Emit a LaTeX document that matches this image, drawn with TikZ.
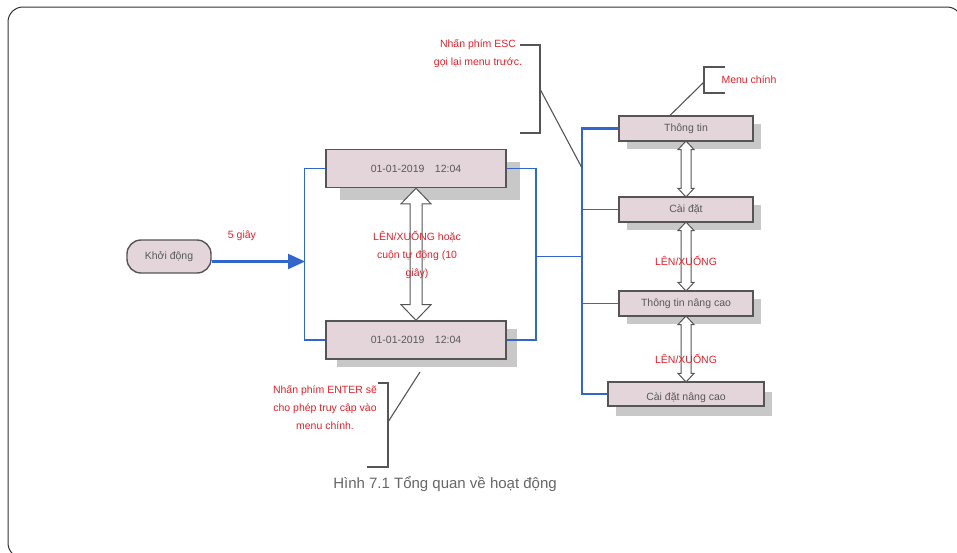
\documentclass[tikz,border=0pt]{standalone}
\usepackage{fontspec}
\setmainfont{Liberation Sans}
\usetikzlibrary{arrows.meta,shapes.arrows,shadows,calc}

\definecolor{boxfill}{HTML}{E3D5DA}
\definecolor{boxline}{HTML}{555555}
\definecolor{shadowgray}{HTML}{C8C8C8}
\definecolor{txtgray}{HTML}{595959}
\definecolor{notered}{HTML}{E0202A}
\definecolor{linkblue}{HTML}{3366CC}

\tikzset{
  boxshadow/.style 2 args={general shadow={fill=shadowgray,
    shadow xshift=#1, shadow yshift=#2}},
  menubox/.style={draw=boxline, fill=boxfill, line width=1.2pt, text=txtgray,
    minimum width=134pt, minimum height=25pt, inner sep=0pt},
  datebox/.style={menubox, minimum width=180pt, minimum height=38pt},
  note/.style={text=notered, align=center, font=\fontsize{10.5}{18}\selectfont},
  bline/.style={draw=linkblue, line width=1.8pt},
  callout/.style={draw=boxline, line width=1.1pt},
  updown/.style={double arrow, draw=boxline, fill=white, line width=1pt,
    rotate=90, inner xsep=0pt}
}

\begin{document}
\begin{tikzpicture}[x=1pt, y=-1pt, font=\fontsize{10.5}{12}\selectfont]
  \useasboundingbox (0,0) rectangle (957,552);
  \draw[rounded corners=15pt, line width=1pt, draw=black!80] (8,7) rectangle (962,558);

  % nodes
  \node[draw=boxline, fill=boxfill, line width=1.4pt, rounded corners=14pt,
    minimum width=84pt, minimum height=33pt, text=txtgray] (start) at (169,256.5) {Khởi động};
  \node[datebox, boxshadow={14pt}{-12pt}] (d1) at (416,168.5) {01-01-2019\quad 12:04};
  \node[datebox, boxshadow={11pt}{-8pt}] (d2) at (416,340) {01-01-2019\quad 12:04};

  \node[menubox, boxshadow={8pt}{-8pt}] (m1) at (686,128.5) {Thông tin};
  \node[menubox, boxshadow={8pt}{-8pt}] (m2) at (686,209.5) {Cài đặt};
  \node[menubox, boxshadow={8pt}{-8pt}] (m3) at (686,303.5) {Thông tin nâng cao};
  \node[menubox, boxshadow={8pt}{-10pt}, minimum width=156pt, minimum height=24pt]
    (m4) at (686,394) {\raisebox{-4pt}[\height][\depth]{Cài đặt nâng cao}};

  % blue links
  \coordinate (lb) at (305,261.5);
  \coordinate (rj) at (535,256.5);
  \coordinate (spt) at (582,128.5);
  \draw[bline, line width=2.2pt, -{Triangle[length=17pt,width=15pt]}]
    ([yshift=-5pt]start.east) -- (lb);
  \draw[bline] (d1.west) -- ++(-21,0) |- (d2.west);
  \draw[bline] (d1.east) -- ++(29,0) |- (d2.east);
  \draw[bline] (rj) -- (rj -| spt);
  \draw[bline, line width=2.2pt] (m1.west) -- (spt) |- (m4.west);
  \draw[bline] (spt |- m2.west) -- (m2.west);
  \draw[bline] (spt |- m3.west) -- (m3.west);

  % up/down arrows
  \node[updown, minimum height=132pt, inner ysep=5.5pt,
    double arrow head extend=9pt, double arrow tip angle=88] (ud0)
    at ($(d1.south)!.5!(d2.north)$) {};
  \node[updown, minimum height=56pt, inner ysep=4.5pt,
    double arrow head extend=3pt, double arrow tip angle=86] (ud1)
    at ($(m1.south)!.5!(m2.north)$) {};
  \node[updown, minimum height=69pt, inner ysep=4.5pt,
    double arrow head extend=3pt, double arrow tip angle=86] (ud2)
    at ($(m2.south)!.5!(m3.north)$) {};
  \node[updown, minimum height=66pt, inner ysep=4.5pt,
    double arrow head extend=3pt, double arrow tip angle=86] (ud3)
    at ($(m3.south)!.5!(m4.north)$) {};

  % notes
  \node[note] (wait) at (242,236) {5 giây};
  \node[note] (scroll) at (417,254.5) {LÊN/XUỐNG hoặc\\cuộn tự động (10\\giây)};
  \node[note] (ud2txt) at (686,261) {LÊN/XUỐNG};
  \node[note] (ud3txt) at (686,359) {LÊN/XUỐNG};

  % callouts
  \node[note] (esc) at (478,53.5) {Nhấn phím ESC\\gọi lại menu trước.};
  \coordinate (escT) at (540,45);
  \coordinate (escB) at (540,133);
  \coordinate (escM) at (540,89);
  \coordinate (escP) at (582,168);
  \draw[callout] ([xshift=-20pt]escT) -- (escT) -- (escB) -- ([xshift=-20pt]escB);
  \draw[callout] (escM) -- (escP);

  \node[note, anchor=west] (mainmenu) at (718,80) {Menu chính};
  \coordinate (mmT) at (704,67);
  \coordinate (mmB) at (704,93);
  \coordinate (mmM) at (704,82);
  \draw[callout] ([xshift=21pt]mmT) -- (mmT) -- (mmB) -- ([xshift=21pt]mmB);
  \draw[callout] (mmM) -- ([xshift=-16pt]m1.north);

  \node[note] (enter) at (325,407.5) {Nhấn phím ENTER sẽ\\cho phép truy cập vào\\menu chính.};
  \coordinate (entT) at (388,383);
  \coordinate (entB) at (388,467);
  \coordinate (entM) at (388,422);
  \coordinate (entP) at (420,372);
  \draw[callout] ([xshift=-10pt]entT) -- (entT) -- (entB) -- ([xshift=-21pt]entB);
  \draw[callout] (entM) -- (entP);

  % caption
  \node[text=black!60, font=\fontsize{15}{18}\selectfont] (caption) at (445,484)
    {Hình 7.1 Tổng quan về hoạt động};
\end{tikzpicture}
\end{document}
